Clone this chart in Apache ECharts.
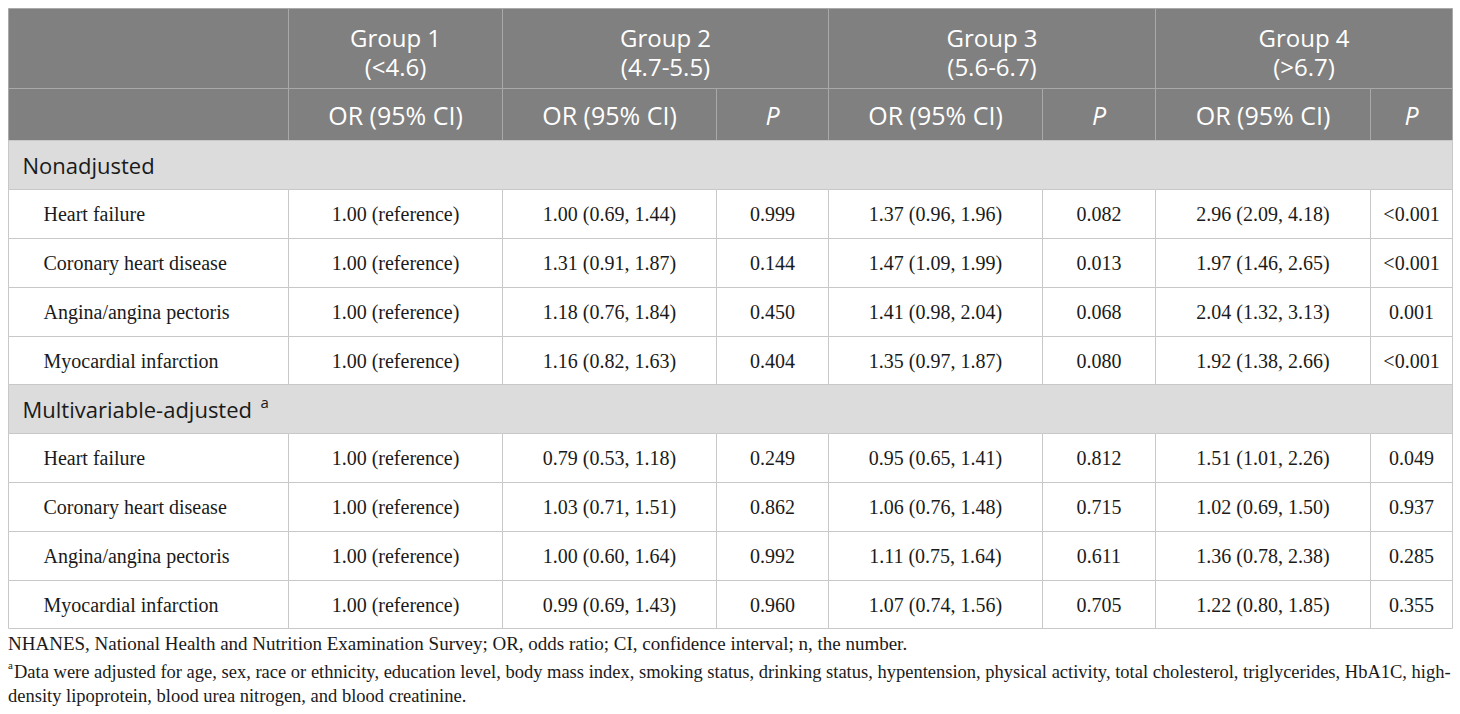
<!DOCTYPE html>
<html><head><meta charset="utf-8">
<script src="https://cdn.jsdelivr.net/npm/echarts@6/dist/echarts.min.js"></script>
<style>html,body{margin:0;padding:0;background:#fff}#c{width:1460px;height:714px}</style>
</head><body><div id="c"></div>
<script>
// ---------- data ----------
const groups = ['Group 1\n(<4.6)', 'Group 2\n(4.7-5.5)', 'Group 3\n(5.6-6.7)', 'Group 4\n(>6.7)'];
const subHeaders = ['OR (95% CI)', 'OR (95% CI)', 'P', 'OR (95% CI)', 'P', 'OR (95% CI)', 'P'];
const sections = ['Nonadjusted', 'Multivariable-adjusted'];
const outcomes = ['Heart failure', 'Coronary heart disease', 'Angina/angina pectoris', 'Myocardial infarction'];
const reference = '1.00 (reference)';

const nonadjOR2 = ['1.00 (0.69, 1.44)', '1.31 (0.91, 1.87)', '1.18 (0.76, 1.84)', '1.16 (0.82, 1.63)'];
const nonadjP2  = ['0.999', '0.144', '0.450', '0.404'];
const nonadjOR3 = ['1.37 (0.96, 1.96)', '1.47 (1.09, 1.99)', '1.41 (0.98, 2.04)', '1.35 (0.97, 1.87)'];
const nonadjP3  = ['0.082', '0.013', '0.068', '0.080'];
const nonadjOR4 = ['2.96 (2.09, 4.18)', '1.97 (1.46, 2.65)', '2.04 (1.32, 3.13)', '1.92 (1.38, 2.66)'];
const nonadjP4  = ['<0.001', '<0.001', '0.001', '<0.001'];

const adjOR2 = ['0.79 (0.53, 1.18)', '1.03 (0.71, 1.51)', '1.00 (0.60, 1.64)', '0.99 (0.69, 1.43)'];
const adjP2  = ['0.249', '0.862', '0.992', '0.960'];
const adjOR3 = ['0.95 (0.65, 1.41)', '1.06 (0.76, 1.48)', '1.11 (0.75, 1.64)', '1.07 (0.74, 1.56)'];
const adjP3  = ['0.812', '0.715', '0.611', '0.705'];
const adjOR4 = ['1.51 (1.01, 2.26)', '1.02 (0.69, 1.50)', '1.36 (0.78, 2.38)', '1.22 (0.80, 1.85)'];
const adjP4  = ['0.049', '0.937', '0.285', '0.355'];

const footnote1 = 'NHANES, National Health and Nutrition Examination Survey; OR, odds ratio; CI, confidence interval; n, the number.';
const footnote2a = 'Data were adjusted for age, sex, race or ethnicity, education level, body mass index, smoking status, drinking status, hypentension, physical activity, total cholesterol, triglycerides, HbA1C, high-';
const footnote2b = 'density lipoprotein, blood urea nitrogen, and blood creatinine.';

// ---------- layout (axis units = px) ----------
const colEdges = [0, 280, 494, 708, 820, 1034, 1147, 1362, 1444];
const rowEdges = [0, 80, 132, 181, 230, 279, 328, 376, 425, 474, 523, 572, 620];
const groupSpans = [[1, 2], [2, 4], [4, 6], [6, 8]];

// ---------- build cells ----------
const cells = [];
function add(c0, c1, r, kind, text) { cells.push({ c0, c1, r, kind, text }); }
add(0, 1, 0, 'head', '');
groups.forEach((g, i) => add(groupSpans[i][0], groupSpans[i][1], 0, 'head2', g));
add(0, 1, 1, 'head', '');
subHeaders.forEach((s, i) => add(i + 1, i + 2, 1, s === 'P' ? 'headP' : 'head', s));
const blocks = [
  [nonadjOR2, nonadjP2, nonadjOR3, nonadjP3, nonadjOR4, nonadjP4],
  [adjOR2, adjP2, adjOR3, adjP3, adjOR4, adjP4]
];
let r = 2;
sections.forEach((sec, si) => {
  add(0, 8, r, si === 1 ? 'sectionSup' : 'section', sec);
  r++;
  outcomes.forEach((o, oi) => {
    add(0, 1, r, 'label', o);
    add(1, 2, r, 'cell', reference);
    blocks[si].forEach((arr, k) => add(k + 2, k + 3, r, 'cell', arr[oi]));
    r++;
  });
});

const chart = echarts.init(document.getElementById('c'), null, { renderer: 'svg' });

const HEAD_FONT = '25px "Open Sans"';
const GROUP_FONT = '24px "Open Sans"';
const BODY_FONT = '20px "Liberation Serif"';
const INK = '#1a1a1a';

function renderItem(params, api) {
  const c = cells[params.dataIndex];
  const p0 = api.coord([api.value(0), api.value(1)]);
  const p1 = api.coord([api.value(2), api.value(3)]);
  const x0 = Math.round(p0[0]) + 0.5, y0 = Math.round(p0[1]) + 0.5;
  const x1 = Math.round(p1[0]) + 0.5, y1 = Math.round(p1[1]) + 0.5;
  const isHead = c.kind.indexOf('head') === 0;
  const isSec = c.kind.indexOf('section') === 0;
  const fill = isHead ? '#808080' : (isSec ? '#dcdcdc' : '#ffffff');
  const stroke = isHead ? '#a9a9a9' : '#c8c8c8';
  const children = [{
    type: 'rect',
    shape: { x: x0, y: y0, width: x1 - x0, height: y1 - y0 },
    style: { fill: fill, stroke: stroke, lineWidth: 1 }
  }];
  const cx = (x0 + x1) / 2, cy = (y0 + y1) / 2;
  const txt = (st) => children.push({ type: 'text', style: st, z2: 10 });
  if (c.text) {
    if (c.kind === 'head2') {
      const lines = c.text.split('\n');
      txt({ text: lines[0], x: cx, y: cy - 11, align: 'center', verticalAlign: 'middle', font: GROUP_FONT, lineHeight: 26, fill: '#ffffff' });
      txt({ text: lines[1], x: cx, y: cy + 18, align: 'center', verticalAlign: 'middle', font: GROUP_FONT, lineHeight: 26, fill: '#ffffff' });
    } else if (isHead) {
      txt({ text: c.text, x: cx, y: cy, align: 'center', verticalAlign: 'middle',
            font: (c.kind === 'headP' ? 'italic ' : '') + HEAD_FONT, fill: '#ffffff' });
    } else if (c.kind === 'section') {
      txt({ text: c.text, x: x0 + 14, y: cy, align: 'left', verticalAlign: 'middle', font: '22px "Open Sans"', fill: INK });
    } else if (c.kind === 'sectionSup') {
      txt({ text: c.text, x: x0 + 14, y: cy, align: 'left', verticalAlign: 'middle', font: '22px "Open Sans"', fill: INK });
      txt({ text: 'a', x: x0 + 14 + 238, y: cy - 7, align: 'left', verticalAlign: 'middle', font: '15px "Open Sans"', fill: INK });
    } else if (c.kind === 'label') {
      txt({ text: c.text, x: x0 + 35, y: cy, align: 'left', verticalAlign: 'middle', font: BODY_FONT, fill: INK });
    } else {
      txt({ text: c.text, x: cx, y: cy, align: 'center', verticalAlign: 'middle', font: BODY_FONT, fill: INK });
    }
  }
  return { type: 'group', children: children };
}

chart.setOption({
  animation: false,
  grid: { left: 8, right: 8, top: 8, bottom: 86 },
  xAxis: { type: 'value', min: 0, max: 1444, show: false },
  yAxis: { type: 'value', min: 0, max: 620, inverse: true, show: false },
  series: [{
    type: 'custom',
    clip: false,
    renderItem: renderItem,
    data: cells.map(c => [colEdges[c.c0], rowEdges[c.r], colEdges[c.c1], rowEdges[c.r + 1]])
  }],
  graphic: [
    { type: 'text', left: 8, top: 634, style: { text: footnote1, font: '19px "Liberation Serif"', fill: INK } },
    { type: 'text', left: 8, top: 659, style: { text: 'a', font: '11px "Liberation Serif"', fill: INK } },
    { type: 'text', left: 14, top: 662, style: { text: footnote2a, font: '18.5px "Liberation Serif"', fill: INK } },
    { type: 'text', left: 8, top: 686, style: { text: footnote2b, font: '18.5px "Liberation Serif"', fill: INK } }
  ]
});
</script></body></html>
